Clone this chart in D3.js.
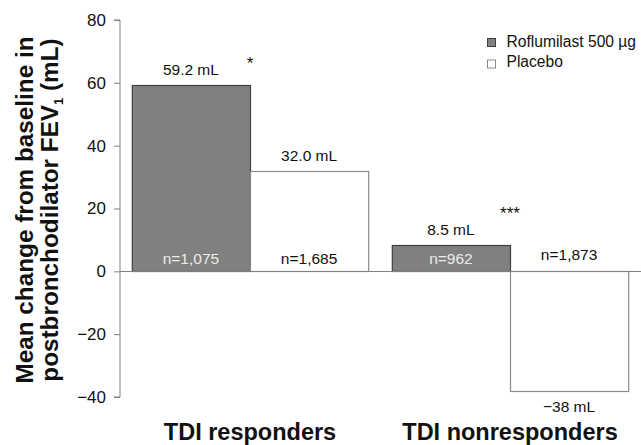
<!DOCTYPE html>
<html><head><meta charset="utf-8">
<script src="https://cdn.jsdelivr.net/npm/d3@7"></script>
<style>
body{margin:0;background:#fff;}
svg{font-family:"Liberation Sans",Arial,sans-serif;display:block;}
</style></head>
<body><svg id="c" width="641" height="445"></svg>
<script>
const categories = ["TDI responders", "TDI nonresponders"];
const series = ["Roflumilast 500 µg", "Placebo"];
const roflumilastValues = [59.2, 8.5];
const placeboValues = [32.0, -38];
const valueLabels = [["59.2 mL", "32.0 mL"], ["8.5 mL", "−38 mL"]];
const nLabels = [["n=1,075", "n=1,685"], ["n=962", "n=1,873"]];
const significance = ["*", "***"];
const yTicks = [-40, -20, 0, 20, 40, 60, 80];

const svg = d3.select("#c");
const x0 = d3.scaleBand().domain(categories).range([120, 640]).paddingInner(0).paddingOuter(0);
const x1 = d3.scaleBand().domain(series).range([0, x0.bandwidth()]).paddingInner(0).paddingOuter(0.1);
const y = d3.scaleLinear().domain([-40, 80]).range([397, 20]);

const fills = {"Roflumilast 500 µg": "#808080", "Placebo": "#ffffff"};
const strokes = {"Roflumilast 500 µg": "#404040", "Placebo": "#8a8a8a"};

const data = [];
categories.forEach((c, i) => {
  data.push({cat: c, ser: series[0], v: roflumilastValues[i], lab: valueLabels[i][0], n: nLabels[i][0]});
  data.push({cat: c, ser: series[1], v: placeboValues[i], lab: valueLabels[i][1], n: nLabels[i][1]});
});

// y axis
const yAxis = d3.axisLeft(y).tickValues(yTicks).tickSize(6).tickPadding(8).tickFormat(d3.format("d"));
const ga = svg.append("g").attr("transform", "translate(120,0)").call(yAxis);
ga.select(".domain").attr("stroke", "#808080").attr("d", `M-6,${y(80)}H0V${y(-40)}H-6`);
ga.selectAll(".tick line").attr("stroke", "#808080");
ga.selectAll(".tick text").attr("font-size", 17).attr("fill", "#111").attr("font-family", '"Liberation Sans",Arial,sans-serif');

// bars
svg.append("g").selectAll("rect").data(data).join("rect")
  .attr("x", d => x0(d.cat) + x1(d.ser) + 0.5)
  .attr("y", d => Math.round(y(Math.max(0, d.v))) + 0.5)
  .attr("width", x1.bandwidth())
  .attr("height", d => Math.abs(Math.round(y(d.v)) - Math.round(y(0))))
  .attr("fill", d => fills[d.ser])
  .attr("stroke", d => strokes[d.ser])
  .attr("stroke-width", 1.2);

// zero line
svg.append("line").attr("x1", 120).attr("x2", 641)
  .attr("y1", Math.round(y(0)) + 0.5).attr("y2", Math.round(y(0)) + 0.5)
  .attr("stroke", "#808080").attr("stroke-width", 1.2);

// value labels
svg.append("g").selectAll("text").data(data).join("text")
  .attr("x", d => x0(d.cat) + x1(d.ser) + x1.bandwidth() / 2)
  .attr("y", d => d.v >= 0 ? y(d.v) - 10 : y(d.v) + 21)
  .attr("text-anchor", "middle").attr("font-size", 15.5).attr("fill", "#111")
  .text(d => d.lab);

// n labels
svg.append("g").selectAll("text").data(data).join("text")
  .attr("x", d => x0(d.cat) + x1(d.ser) + x1.bandwidth() / 2)
  .attr("y", d => (d.v >= 0) ? y(0) - 7 : y(0) - 11)
  .attr("text-anchor", "middle").attr("font-size", 15.5)
  .attr("fill", d => d.ser === series[0] ? "#ececec" : "#111")
  .text(d => d.n);

// significance
svg.append("g").selectAll("text").data(categories).join("text")
  .attr("x", d => x0(d) + x0.bandwidth() / 2)
  .attr("y", (d, i) => i === 0 ? 69 : 219)
  .attr("text-anchor", "middle").attr("font-size", 17).attr("fill", "#111")
  .text((d, i) => significance[i]);

// category labels
svg.append("g").selectAll("text").data(categories).join("text")
  .attr("x", d => x0(d) + x0.bandwidth() / 2)
  .attr("y", 440)
  .attr("text-anchor", "middle").attr("font-size", 23.5).attr("font-weight", "bold").attr("fill", "#111")
  .text(d => d);

// y title
const t = svg.append("g").attr("transform", "translate(0,210) rotate(-90)");
t.append("text").attr("x", 0).attr("y", 33).attr("text-anchor", "middle")
  .attr("font-size", 24.3).attr("font-weight", "bold").attr("fill", "#111")
  .text("Mean change from baseline in");
const t2 = t.append("text").attr("x", 0).attr("y", 58).attr("text-anchor", "middle")
  .attr("font-size", 24.3).attr("font-weight", "bold").attr("fill", "#111");
t2.append("tspan").text("postbronchodilator FEV");
t2.append("tspan").attr("font-size", 13).attr("dy", 5).text("1");
t2.append("tspan").attr("dy", -5).text(" (mL)");

// legend
const lg = svg.append("g");
series.forEach((s, i) => {
  lg.append("rect").attr("x", 487.5).attr("y", 38.5 + i * 21.5).attr("width", 8).attr("height", 8)
    .attr("fill", fills[s]).attr("stroke", strokes[s]).attr("stroke-width", 1);
  lg.append("text").attr("x", 506.5).attr("y", 47 + i * 20).attr("font-size", 15.6).attr("fill", "#111").text(s);
});
</script></body></html>
